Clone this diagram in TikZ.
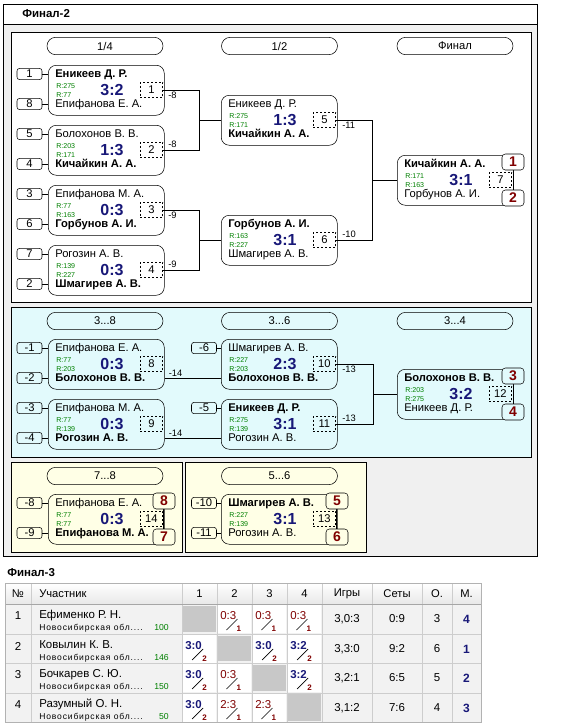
\documentclass[tikz,border=0pt]{standalone}
\usepackage{fontspec}
\setmainfont{Liberation Sans}
\newfontfamily\spacedfont[LetterSpace=10]{Liberation Sans}
\usepackage{tikz}
\usetikzlibrary{calc}

\definecolor{navyscore}{RGB}{24,24,120}
\definecolor{darkred}{RGB}{128,0,0}
\definecolor{rgreen}{RGB}{0,128,0}
\definecolor{panelgray}{RGB}{240,240,240}
\definecolor{bluepanel}{RGB}{226,250,252}
\definecolor{creampanel}{RGB}{255,255,230}
\definecolor{diaggray}{RGB}{200,200,200}
\definecolor{cellgray}{RGB}{242,242,242}
\definecolor{gridgray}{RGB}{205,205,205}

\tikzset{
  gbox/.style={draw, rounded corners=6pt, minimum width=87pt, minimum height=37.5pt, inner sep=0pt},
  pname/.style={inner sep=0pt, font=\fontsize{8.4}{10}\selectfont},
  rating/.style={inner sep=0pt, text=rgreen, font=\fontsize{5.3}{6}\selectfont},
  score/.style={inner sep=0pt, text=navyscore, font=\fontsize{12}{14}\selectfont\bfseries},
  gnum/.style={draw, dash pattern=on 1.5pt off 1.5pt, minimum width=17pt, minimum height=11.5pt, inner sep=0pt, font=\fontsize{8.4}{10}\selectfont},
  seed/.style={draw, rounded corners=2pt, minimum width=18.75pt, minimum height=8.5pt, inner sep=0pt, font=\fontsize{8.4}{10}\selectfont},
  place/.style={draw, fill=white, rounded corners=2.5pt, minimum width=16.5pt, minimum height=12pt, inner sep=0pt, text=darkred, font=\fontsize{10.5}{12}\selectfont\bfseries},
  stage/.style={draw, rounded corners=6.5pt, minimum width=87pt, minimum height=13pt, inner sep=0pt, font=\fontsize{8.4}{10}\selectfont},
  lbl/.style={inner sep=0pt, font=\fontsize{7}{8}\selectfont},
  ttl/.style={inner sep=0pt, font=\fontsize{8.6}{10}\selectfont\bfseries},
  thead/.style={inner sep=0pt, font=\fontsize{8.4}{10}\selectfont},
  tcell/.style={inner sep=0pt, font=\fontsize{8.6}{10}\selectfont},
  region/.style={inner sep=0pt, font=\spacedfont\fontsize{6.4}{7}\selectfont},
  rate/.style={inner sep=0pt, text=rgreen, font=\fontsize{6.5}{7}\selectfont},
  winscore/.style={inner sep=0pt, text=navyscore, font=\fontsize{8.6}{10}\selectfont\bfseries},
  losescore/.style={inner sep=0pt, text=darkred, font=\fontsize{8.6}{10}\selectfont},
  setnum/.style={inner sep=0pt, text=darkred, font=\fontsize{6}{7}\selectfont\bfseries},
  placenum/.style={inner sep=0pt, text=navyscore, font=\fontsize{9}{10}\selectfont\bfseries}
}

% match: id, x, y, top player, bottom player, rating top, rating bottom, score, number
\newcommand{\gamebox}[9]{%
  \node[gbox, anchor=north west] (#1) at (#2,#3) {};
  \coordinate (#1-in1) at (#2,#3+9);
  \coordinate (#1-in2) at (#2,#3+39);
  \node[pname, anchor=base west] (#1-a) at (#2+7,#3+12) {#4};
  \node[pname, anchor=base west] (#1-b) at (#2+7,#3+42.5) {#5};
  \node[rating, anchor=base west] (#1-ra) at (#2+8,#3+23) {R:#6};
  \node[rating, anchor=base west] (#1-rb) at (#2+8,#3+32.5) {R:#7};
  \node[score, anchor=base] (#1-s) at (#2+64,#3+30) {#8};
  \node[gnum, anchor=east] (#1-n) at (#2+115,#3+25) {#9};
}

% table result: id, cell x, row y, score, small number, style
\newcommand{\rescell}[6]{%
  \fill[white] (#2+1,#3+1) rectangle (#2+34,#3+29);
  \node[#6, anchor=base west] (#1) at (#2+3,#3+15) {#4};
  \draw[line width=0.5pt] ($(#1.base east)+(1,0)$) -- ++(-11,11);
  \node[setnum, anchor=base west] (#1-k) at ($(#1.base east)+(0,12)$) {#5};
}

\begin{document}
\begin{tikzpicture}[x=0.75pt,y=0.75pt,yscale=-1,xscale=1]
\useasboundingbox (0,0) rectangle (578,728);

% Panels
\draw[fill=panelgray] (3,4) rectangle (537,556);
\draw[fill=white] (3,4) rectangle (537,24);
\node[ttl, anchor=west] (ttl2) at (22,14) {Финал-2};
\draw[fill=white] (11,32) rectangle (531,302);
\draw[fill=bluepanel] (11,307) rectangle (531,457);
\draw[fill=creampanel] (11,462) rectangle (182,552);
\draw[fill=creampanel] (185,462) rectangle (366,552);

% Stage headers
\node[stage] (st-q) at (105,46) {1/4};
\node[stage] (st-s) at (279.5,46) {1/2};
\node[stage] (st-f) at (455,46) {Финал};
\node[stage] (st-38) at (105,321) {3...8};
\node[stage] (st-36) at (279.5,321) {3...6};
\node[stage] (st-34) at (455,321) {3...4};
\node[stage] (st-78) at (105,476) {7...8};
\node[stage] (st-56) at (279.5,476) {5...6};

% Main bracket
\gamebox{g1}{48}{65}{\textbf{Еникеев Д. Р.}}{Епифанова Е. А.}{275}{77}{3:2}{1}
\gamebox{g2}{48}{125}{Болохонов В. В.}{\textbf{Кичайкин А. А.}}{203}{171}{1:3}{2}
\gamebox{g3}{48}{185}{Епифанова М. А.}{\textbf{Горбунов А. И.}}{77}{163}{0:3}{3}
\gamebox{g4}{48}{245}{Рогозин А. В.}{\textbf{Шмагирев А. В.}}{139}{227}{0:3}{4}
\gamebox{g5}{221}{95}{Еникеев Д. Р.}{\textbf{Кичайкин А. А.}}{275}{171}{1:3}{5}
\gamebox{g6}{221}{215}{\textbf{Горбунов А. И.}}{Шмагирев А. В.}{163}{227}{3:1}{6}
\gamebox{g7}{397}{155}{\textbf{Кичайкин А. А.}}{Горбунов А. И.}{171}{163}{3:1}{7}

\node[seed] (sd1) at (29.5,74) {1};
\node[seed] (sd8) at (29.5,104) {8};
\node[seed] (sd5) at (29.5,134) {5};
\node[seed] (sd4) at (29.5,164) {4};
\node[seed] (sd3) at (29.5,194) {3};
\node[seed] (sd6) at (29.5,224) {6};
\node[seed] (sd7) at (29.5,254) {7};
\node[seed] (sd2) at (29.5,284) {2};
\draw (sd1.east) -- (g1-in1);
\draw (sd8.east) -- (g1-in2);
\draw (sd5.east) -- (g2-in1);
\draw (sd4.east) -- (g2-in2);
\draw (sd3.east) -- (g3-in1);
\draw (sd6.east) -- (g3-in2);
\draw (sd7.east) -- (g4-in1);
\draw (sd2.east) -- (g4-in2);

%Straight Lines
\draw (g1-n.east) -- ++(36,0) |- (g5.west);
\draw (g2-n.east) -- ++(36,0) |- (g5.west);
\draw (g3-n.east) -- ++(36,0) |- (g6.west);
\draw (g4-n.east) -- ++(36,0) |- (g6.west);
\draw (g5-n.east) -- ++(36,0) |- (g7.west);
\draw (g6-n.east) -- ++(36,0) |- (g7.west);
\node[lbl, anchor=north west] (c1) at ($(g1-n.east)+(5,2)$) {-8};
\node[lbl, anchor=south west] (c2) at ($(g2-n.east)+(5,-2)$) {-8};
\node[lbl, anchor=north west] (c3) at ($(g3-n.east)+(5,2)$) {-9};
\node[lbl, anchor=south west] (c4) at ($(g4-n.east)+(5,-2)$) {-9};
\node[lbl, anchor=north west] (c5) at ($(g5-n.east)+(6,2)$) {-11};
\node[lbl, anchor=south west] (c6) at ($(g6-n.east)+(6,-2)$) {-10};

\draw (513,169) -- (513,190);
\node[place] (pl1) at (513,162) {1};
\node[place] (pl2) at (513,198) {2};

% Places 3..8
\gamebox{g8}{48}{339}{Епифанова Е. А.}{\textbf{Болохонов В. В.}}{77}{203}{0:3}{8}
\gamebox{g9}{48}{399}{Епифанова М. А.}{\textbf{Рогозин А. В.}}{77}{139}{0:3}{9}
\gamebox{g10}{221}{339}{Шмагирев А. В.}{\textbf{Болохонов В. В.}}{227}{203}{2:3}{10}
\gamebox{g11}{221}{399}{\textbf{Еникеев Д. Р.}}{Рогозин А. В.}{275}{139}{3:1}{11}
\gamebox{g12}{397}{369}{\textbf{Болохонов В. В.}}{Еникеев Д. Р.}{203}{275}{3:2}{12}

\node[seed] (sdm1) at (29.5,348) {-1};
\node[seed] (sdm2) at (29.5,378) {-2};
\node[seed] (sdm3) at (29.5,408) {-3};
\node[seed] (sdm4) at (29.5,438) {-4};
\node[seed] (sdm6) at (204,348) {-6};
\node[seed] (sdm5) at (204,408) {-5};
\draw (sdm1.east) -- (g8-in1);
\draw (sdm2.east) -- (g8-in2);
\draw (sdm3.east) -- (g9-in1);
\draw (sdm4.east) -- (g9-in2);
\draw (sdm6.east) -- (g10-in1);
\draw (sdm5.east) -- (g11-in1);

\draw (g8.east |- g10-in2) -- (g10-in2);
\draw (g9.east |- g11-in2) -- (g11-in2);
\node[lbl, anchor=south west] (c8) at ($(g8.east |- g10-in2)+(4,-1)$) {-14};
\node[lbl, anchor=south west] (c9) at ($(g9.east |- g11-in2)+(4,-1)$) {-14};
\draw (g10-n.east) -- ++(37,0) |- (g12.west);
\draw (g11-n.east) -- ++(37,0) |- (g12.west);
\node[lbl, anchor=north west] (c10) at ($(g10-n.east)+(6,2)$) {-13};
\node[lbl, anchor=south west] (c11) at ($(g11-n.east)+(6,-2)$) {-13};

\draw (513,383) -- (513,405);
\node[place, fill=bluepanel] (pl3) at (513,376) {3};
\node[place, fill=bluepanel] (pl4) at (513,412) {4};

% Places 7..8 and 5..6
\gamebox{g13}{48}{494}{Епифанова Е. А.}{\textbf{Епифанова М. А.}}{77}{77}{0:3}{14}
\gamebox{g14}{221}{494}{\textbf{Шмагирев А. В.}}{Рогозин А. В.}{227}{139}{3:1}{13}
\node[seed] (sdm8) at (29.5,503) {-8};
\node[seed] (sdm9) at (29.5,533) {-9};
\node[seed] (sdm10) at (204,503) {-10};
\node[seed] (sdm11) at (204,533) {-11};
\draw (sdm8.east) -- (g13-in1);
\draw (sdm9.east) -- (g13-in2);
\draw (sdm10.east) -- (g14-in1);
\draw (sdm11.east) -- (g14-in2);
\draw (163,508) -- (163,530);
\node[place, fill=creampanel] (pl8) at (164,501) {8};
\node[place, fill=creampanel] (pl7) at (164,537) {7};
\draw (336,508) -- (336,530);
\node[place, fill=creampanel] (pl5) at (337,501) {5};
\node[place, fill=creampanel] (pl6) at (337,537) {6};

% Table
\node[ttl, anchor=west] (ttl3) at (7,573) {Финал-3};
\shade[top color=white, bottom color=gray!18] (5,583) rectangle (481,604);
\fill[cellgray] (5,604) rectangle (481,722);
\foreach \xc in {31,182,217,252,287,322,372,422,452}
  \draw[gridgray] (\xc,583) -- (\xc,722);
\foreach \yc in {634,663,693}
  \draw[gridgray] (5,\yc) -- (481,\yc);
\draw[gray!70] (5,604) -- (481,604);
\draw[gray!60] (5,583) rectangle (481,722);

\node[thead] (h-no) at (18,594) {№};
\node[thead, anchor=west] (h-nm) at (39,594) {Участник};
\node[thead] (h-1) at (199.5,594) {1};
\node[thead] (h-2) at (234.5,594) {2};
\node[thead] (h-3) at (269.5,594) {3};
\node[thead] (h-4) at (304.5,594) {4};
\node[thead] (h-g) at (347,594) {Игры};
\node[thead] (h-s) at (397,594) {Сеты};
\node[thead] (h-o) at (437,594) {О.};
\node[thead] (h-m) at (466.5,594) {М.};

% row 1
\node[tcell] (r1-no) at (18,616) {1};
\node[tcell, anchor=base west] (r1-nm) at (39,618) {Ефименко Р. Н.};
\node[region, anchor=base west] (r1-rg) at (39,630) {Новосибирская обл....};
\node[rate, anchor=base east] (r1-rt) at (169,630) {100};
\fill[diaggray] (183,606) rectangle (216,632);
\rescell{r1c2}{217}{604}{0:3}{1}{losescore}
\rescell{r1c3}{252}{604}{0:3}{1}{losescore}
\rescell{r1c4}{287}{604}{0:3}{1}{losescore}
\node[tcell] (r1-g) at (347,619) {3,0:3};
\node[tcell] (r1-s) at (397,619) {0:9};
\node[tcell] (r1-o) at (437,619) {3};
\node[placenum] (r1-m) at (466.5,619) {4};

% row 2
\node[tcell] (r2-no) at (18,646) {2};
\node[tcell, anchor=base west] (r2-nm) at (39,648) {Ковылин К. В.};
\node[region, anchor=base west] (r2-rg) at (39,660) {Новосибирская обл....};
\node[rate, anchor=base east] (r2-rt) at (169,660) {146};
\rescell{r2c1}{182}{634}{3:0}{2}{winscore}
\fill[diaggray] (218,636) rectangle (251,661);
\rescell{r2c3}{252}{634}{3:0}{2}{winscore}
\rescell{r2c4}{287}{634}{3:2}{2}{winscore}
\node[tcell] (r2-g) at (347,649) {3,3:0};
\node[tcell] (r2-s) at (397,649) {9:2};
\node[tcell] (r2-o) at (437,649) {6};
\node[placenum] (r2-m) at (466.5,649) {1};

% row 3
\node[tcell] (r3-no) at (18,675) {3};
\node[tcell, anchor=base west] (r3-nm) at (39,677) {Бочкарев С. Ю.};
\node[region, anchor=base west] (r3-rg) at (39,689) {Новосибирская обл....};
\node[rate, anchor=base east] (r3-rt) at (169,689) {150};
\rescell{r3c1}{182}{663}{3:0}{2}{winscore}
\rescell{r3c2}{217}{663}{0:3}{1}{losescore}
\fill[diaggray] (253,665) rectangle (286,691);
\rescell{r3c4}{287}{663}{3:2}{2}{winscore}
\node[tcell] (r3-g) at (347,678) {3,2:1};
\node[tcell] (r3-s) at (397,678) {6:5};
\node[tcell] (r3-o) at (437,678) {5};
\node[placenum] (r3-m) at (466.5,678) {2};

% row 4
\node[tcell] (r4-no) at (18,705) {4};
\node[tcell, anchor=base west] (r4-nm) at (39,707) {Разумный О. Н.};
\node[region, anchor=base west] (r4-rg) at (39,719) {Новосибирская обл....};
\node[rate, anchor=base east] (r4-rt) at (169,719) {50};
\rescell{r4c1}{182}{693}{3:0}{2}{winscore}
\rescell{r4c2}{217}{693}{2:3}{1}{losescore}
\rescell{r4c3}{252}{693}{2:3}{1}{losescore}
\fill[diaggray] (288,694) rectangle (321,721);
\node[tcell] (r4-g) at (347,708) {3,1:2};
\node[tcell] (r4-s) at (397,708) {7:6};
\node[tcell] (r4-o) at (437,708) {4};
\node[placenum] (r4-m) at (466.5,708) {3};

\end{tikzpicture}
\end{document}
